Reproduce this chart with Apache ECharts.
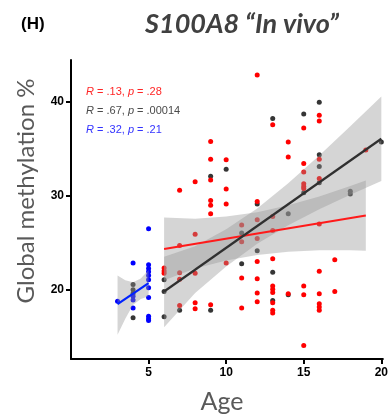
<!DOCTYPE html>
<html><head><meta charset="utf-8">
<script src="https://cdn.jsdelivr.net/npm/echarts@6/dist/echarts.min.js"></script>
<style>html,body{margin:0;padding:0;background:#fff}#c{width:391px;height:420px}</style>
</head><body><div id="c"></div>
<script>
// ---- data ----
const xTicks = [5, 10, 15, 20];
const yTicks = [20, 30, 40];

const redAge = [6,6,6, 7,7,7,7,7, 8,8,8,8,8, 9,9,9,9,9,9,9, 10,10,10,10, 11,11,11,11,
  12,12,12,12,12,12,12,12, 13,13,13,13,13,13,13,13,13,13, 14,14,14,
  15,15,15,15,15,15,15,15,15, 16,16,16,16,16,16,16,16,16,16, 17,17, 19];
const redVal = [22.3,22.0,21.75, 30.6,24.7,21.8,21.1,18.3, 31.5,25.9,21.75,18.6,17.95,
  35.8,33.9,31.7,29.5,29.0,28.1,18.4, 33.85,30.75,29.15,22.85, 26.9,25.1,21.25,18.05,
  42.9,29.4,27.45,25.45,23.0,21.15,19.65,18.7,
  37.6,27.8,26.3,23.3,20.4,20.05,19.7,18.6,17.8,17.5, 35.75,34.15,19.55,
  37.25,33.45,32.55,31.3,31.0,30.8,20.4,19.45,14.05,
  38.6,38.0,33.9,31.85,27.0,21.95,19.55,18.5,18.15,17.8, 23.2,19.8, 34.9];

const blackAge = [4,4,4,4, 6,6,6, 7, 9,9, 10, 11,11, 12,12, 13,13,13, 14,14, 15,15, 16,16,16,16, 18,18, 20];
const blackVal = [20.55,20.0,19.6,17.0, 21.05,19.8,17.1, 17.8, 32.1,17.8, 32.85, 26.05,22.75,
  29.15,24.15, 38.25,21.85,18.85, 28.1,19.45, 38.75,30.35, 40.0,34.4,33.15,31.4, 30.5,30.2, 35.75];

const blueAge = [3, 4,4,4,4, 5,5,5,5,5,5,5,5,5,5,5];
const blueVal = [18.75, 22.85,19.3,18.9,18.05, 26.5,22.65,22.25,21.9,21.5,21.05,20.2,19.15,17.15,16.9,16.7];

// fitted lines (end points)
const redFitAge = [6, 19],   redFitVal = [24.34, 27.9];
const blackFitAge = [6, 20], blackFitVal = [19.8, 36.1];
const blueFitAge = [3, 5],   blueFitVal = [18.45, 20.7];

// confidence bands
const redBandAge  = [6, 8, 10, 12, 14, 16, 18, 19];
const redBandLow  = [21.0, 22.25, 23.1, 23.7, 24.05, 24.2, 24.2, 24.15];
const redBandHigh = [27.7, 27.55, 27.8, 28.25, 29.0, 29.95, 31.05, 31.65];

const blackBandAge  = [6, 8, 10, 12, 14, 16, 18, 20];
const blackBandLow  = [16.0, 19.64, 22.47, 24.9, 26.88, 28.57, 30.12, 31.6];
const blackBandHigh = [23.5, 24.62, 26.45, 28.66, 31.34, 34.31, 37.42, 40.6];

const blueBandAge  = [3, 3.5, 4, 4.5, 5];
const blueBandLow  = [15.2, 16.9, 18.4, 19.0, 19.3];
const blueBandHigh = [21.5, 21.0, 20.8, 21.2, 22.1];

const statTexts = [
  {R: '.13', p: '.28', color: '#ff2626'},
  {R: '.67', p: '.00014', color: '#4a4a4a'},
  {R: '.32', p: '.21', color: '#3333ff'}
];

// ---- build ----
function pairs(a, v) { return a.map((x, i) => [x, v[i]]); }
function band(ages, low, high) {
  return {
    type: 'custom', z: 5, silent: true, data: [[ages[0], low[0]]],
    renderItem: function (params, api) {
      const pts = [];
      for (let i = 0; i < ages.length; i++) pts.push(api.coord([ages[i], high[i]]));
      for (let i = ages.length - 1; i >= 0; i--) pts.push(api.coord([ages[i], low[i]]));
      return {type: 'polygon', shape: {points: pts, smooth: 0}, style: {fill: 'rgba(150,150,150,0.4)'}};
    }
  };
}
function scatter(a, v, color, z) {
  return {type: 'scatter', data: pairs(a, v), symbolSize: 5, z: z, silent: true,
    itemStyle: {color: color, opacity: 1}};
}
function fit(a, v, color, w) {
  return {type: 'line', data: pairs(a, v), symbol: 'none', z: 6, silent: true,
    lineStyle: {color: color, width: w}};
}

const font = '"Liberation Sans", Arial, sans-serif';
const graphics = [];
statTexts.forEach((s, i) => {
  const st = {fontSize: 11, fontFamily: font, fill: s.color, fontStyle: 'normal'};
  const it = Object.assign({}, st, {fontStyle: 'italic'});
  graphics.push({type: 'text', x: 86, y: 92 + i * 18.8, z: 10,
    style: {text: '{i|R}{n| = ' + s.R + ', }{i|p}{n| = ' + s.p + '}', verticalAlign: 'middle',
      rich: {i: it, n: st}}});
});
graphics.push({type: 'text', x: 21, y: 24, style: {text: '(H)', font: 'bold 17px ' + font, fill: '#000', verticalAlign: 'middle'}});
graphics.push({type: 'text', x: 242, y: 24, style: {text: 'S100A8 \u201cIn vivo\u201d', font: 'italic bold 27px Lato, sans-serif', fill: '#404040', align: 'center', verticalAlign: 'middle'}});
graphics.push({type: 'text', x: 26, y: 191, rotation: Math.PI / 2, style: {text: 'Global methylation %', font: '24px Lato, sans-serif', fill: '#595959', align: 'center', verticalAlign: 'middle'}});
graphics.push({type: 'text', x: 222, y: 402, style: {text: 'Age', font: '25px Lato, sans-serif', fill: '#595959', align: 'center', verticalAlign: 'middle'}});

const chart = echarts.init(document.getElementById('c'), null, {renderer: 'canvas'});
chart.setOption({
  animation: false,
  backgroundColor: '#fff',
  grid: {left: 71, right: 6, top: 60, bottom: 61, containLabel: false},
  xAxis: {
    type: 'value', min: 0, max: 20.1,
    splitLine: {show: false},
    axisLine: {show: true, onZero: false, lineStyle: {color: '#000', width: 2}},
    axisTick: {show: true, customValues: xTicks, length: 5, lineStyle: {color: '#000', width: 2}},
    axisLabel: {customValues: xTicks, color: '#000', fontWeight: 'bold', fontSize: 12, fontFamily: font, margin: 8}
  },
  yAxis: {
    type: 'value', min: 12.6, max: 44.5,
    splitLine: {show: false},
    axisLine: {show: true, onZero: false, lineStyle: {color: '#000', width: 2}},
    axisTick: {show: true, customValues: yTicks, length: 5, lineStyle: {color: '#000', width: 2}},
    axisLabel: {customValues: yTicks, color: '#000', fontWeight: 'bold', fontSize: 12, fontFamily: font, margin: 7}
  },
  graphic: graphics,
  series: [
    scatter(blackAge, blackVal, '#353535', 2),
    scatter(redAge, redVal, '#ff0000', 3),
    scatter(blueAge, blueVal, '#0000ff', 3),
    band(redBandAge, redBandLow, redBandHigh),
    band(blackBandAge, blackBandLow, blackBandHigh),
    band(blueBandAge, blueBandLow, blueBandHigh),
    fit(redFitAge, redFitVal, '#ff1a1a', 2),
    fit(blackFitAge, blackFitVal, '#303030', 2.2),
    fit(blueFitAge, blueFitVal, '#0022ff', 2.2)
  ]
});
</script>
</body></html>
